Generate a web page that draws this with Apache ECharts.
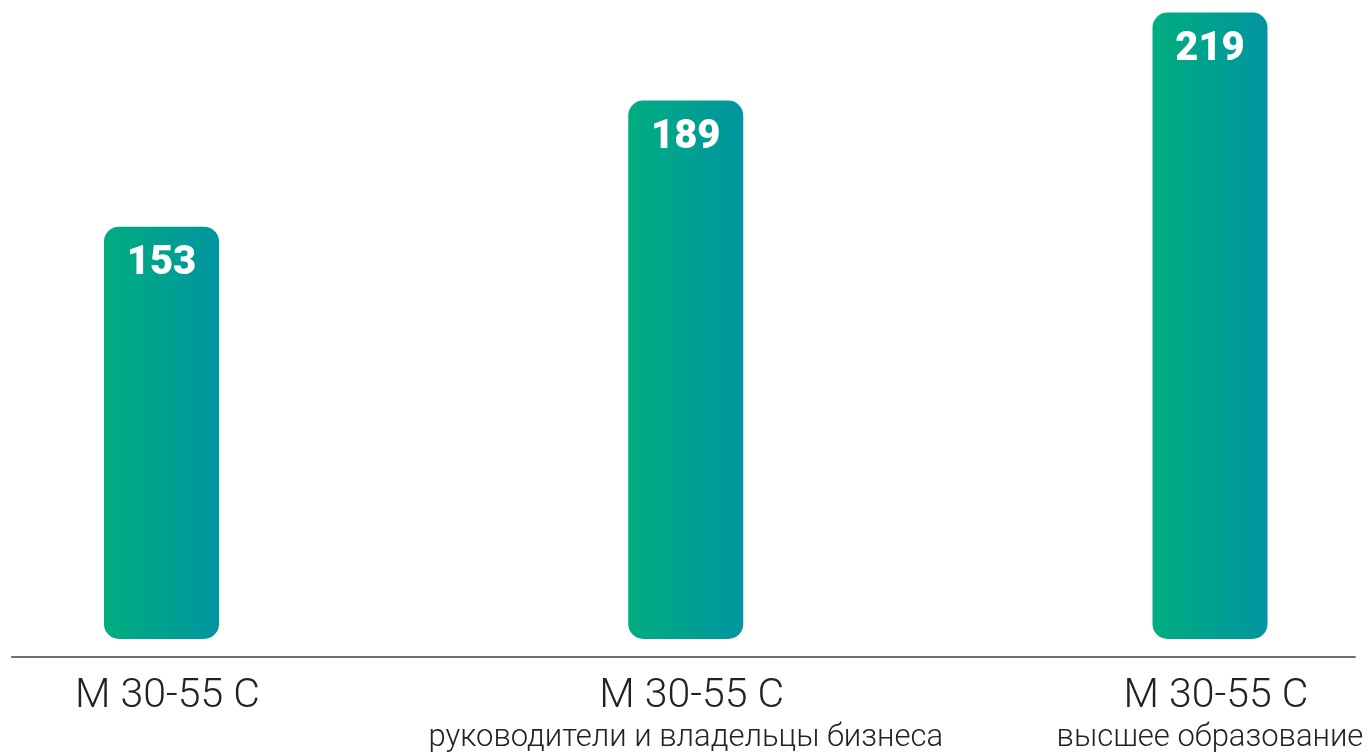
<!DOCTYPE html>
<html>
<head>
<meta charset="utf-8">
<script src="https://cdn.jsdelivr.net/npm/echarts@6/dist/echarts.min.js"></script>
<style>
html,body{margin:0;padding:0;background:#fff;}
#chart{width:1371px;height:754px;}
</style>
</head>
<body>
<div id="chart"></div>
<script>
// ---- data ----
var mainLabels = ['М 30-55 С', 'М 30-55 С', 'М 30-55 С'];
var subLabels = ['', 'руководители и владельцы бизнеса', 'высшее образование'];
var values = [153, 189, 219];

var AXIS_MIN = 76.67, AXIS_MAX = 220;

var categories = mainLabels.map(function (m, i) { return i + '|' + m + '|' + subLabels[i]; });

var chart = echarts.init(document.getElementById('chart'), null, { renderer: 'canvas' });
chart.setOption({
  backgroundColor: '#ffffff',
  animation: false,
  grid: [
    { left: 161.5, right: 161, top: 9.9, bottom: 115 },
    { left: 12, right: 16, top: 9.9, bottom: 97 }
  ],
  xAxis: [
    {
      type: 'category', gridIndex: 0, data: categories, boundaryGap: false,
      axisLine: { show: false }, axisTick: { show: false },
      axisLabel: {
        margin: 37, interval: 0,
        formatter: function (v) {
          var p = v.split('|');
          return p[2] ? '{a|' + p[1] + '}\n{b|' + p[2] + '}' : '{a|' + p[1] + '}';
        },
        rich: {
          a: { fontFamily: 'Roboto', fontWeight: 300, fontSize: 41, lineHeight: 42, color: '#222222', padding: [0, 0, 0, 12] },
          b: { fontFamily: 'Roboto', fontWeight: 300, fontSize: 31, lineHeight: 40, color: '#222222' }
        }
      }
    },
    {
      type: 'category', gridIndex: 1, data: [],
      axisLine: { show: true, lineStyle: { color: '#707070', width: 2 } },
      axisTick: { show: false }, axisLabel: { show: false }
    }
  ],
  yAxis: [
    {
      type: 'log', gridIndex: 0, min: AXIS_MIN, max: AXIS_MAX, startValue: AXIS_MIN,
      show: false, splitLine: { show: false }
    },
    { type: 'value', gridIndex: 1, show: false, splitLine: { show: false } }
  ],
  series: [
    {
      type: 'bar', xAxisIndex: 0, yAxisIndex: 0, data: values, barWidth: 115,
      itemStyle: {
        borderRadius: 15,
        color: new echarts.graphic.LinearGradient(0, 0, 1, 0, [
          { offset: 0, color: '#00AD7F' },
          { offset: 1, color: '#0095A0' }
        ])
      },
      label: {
        show: true, position: 'insideTop', distance: 17,
        color: '#ffffff', fontFamily: 'Roboto', fontWeight: 900, fontSize: 40
      }
    }
  ]
});
</script>
</body>
</html>
